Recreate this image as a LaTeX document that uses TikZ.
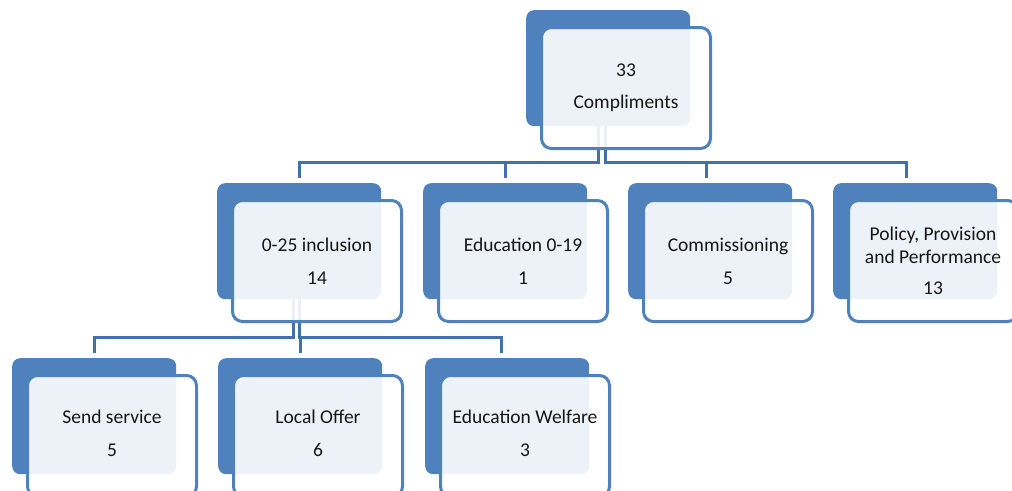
\documentclass[tikz,border=0pt]{standalone}
\usepackage{fontspec}
\setmainfont{Carlito}
\usetikzlibrary{positioning}

\definecolor{boxblue}{RGB}{79,129,189}
\definecolor{linkblue}{RGB}{68,112,170}
\definecolor{txtgray}{RGB}{22,22,22}

\tikzset{
  backbox/.style={fill=boxblue, rounded corners=8pt, minimum width=164pt, minimum height=116pt, inner sep=0pt, anchor=north west},
  frontbox/.style={draw=boxblue, line width=3pt, fill=white, fill opacity=0.9, rounded corners=10pt, minimum width=169pt, minimum height=121pt, inner sep=0pt},
  itemtext/.style={align=center, text=txtgray, font=\fontsize{19.5}{23.4}\selectfont, inner sep=0pt},
  link/.style={draw=linkblue, line width=3.3pt}
}

\begin{document}
\begin{tikzpicture}[x=1pt, y=-1pt]
	\useasboundingbox (0,0) rectangle (1012,490);
	% back boxes
	\node[backbox] (topb) at (526,10) {};
	\node[backbox] (incb) at (217,183) {};
	\node[backbox] (edub) at (423,183) {};
	\node[backbox] (comb) at (628,183) {};
	\node[backbox] (polb) at (833,183) {};
	\node[backbox] (sndb) at (12,358) {};
	\node[backbox] (locb) at (218,358) {};
	\node[backbox] (ewfb) at (425,358) {};
	% links
	\coordinate (topl) at ([xshift=-10pt]topb.south);
	\coordinate (topr) at ([xshift=-3pt]topb.south);
	\draw[link] (topl) -- ++(0,36) -| ([yshift=5pt]incb.north);
	\draw[link] (topl) -- ++(0,36) -| ([yshift=5pt]edub.north);
	\draw[link] (topr) -- ++(0,36) -| ([xshift=-4pt,yshift=5pt]comb.north);
	\draw[link] (topr) -- ++(0,36) -| ([xshift=-9pt,yshift=5pt]polb.north);
	\coordinate (incl) at ([xshift=-6pt]incb.south);
	\coordinate (incr) at (incb.south);
	\draw[link] (incl) -- ++(0,38) -| ([yshift=5pt]sndb.north);
	\draw[link] (incr) -- ++(0,38) -| ([yshift=5pt]locb.north);
	\draw[link] (incr) -- ++(0,38) -| ([xshift=-6pt,yshift=5pt]ewfb.north);
	% front boxes
	\node[frontbox, below right=16pt and 14pt of topb.north west] (topf) {};
	\node[frontbox, below right=16pt and 14pt of incb.north west] (incf) {};
	\node[frontbox, below right=16pt and 14pt of edub.north west] (eduf) {};
	\node[frontbox, below right=16pt and 14pt of comb.north west] (comf) {};
	\node[frontbox, below right=16pt and 14pt of polb.north west] (polf) {};
	\node[frontbox, below right=16pt and 14pt of sndb.north west] (sndf) {};
	\node[frontbox, below right=16pt and 14pt of locb.north west] (locf) {};
	\node[frontbox, below right=16pt and 14pt of ewfb.north west] (ewff) {};
	% texts
	\node[itemtext] (topt) at (topf) {33\\[9pt]Compliments};
	\node[itemtext] (inct) at (incf) {0-25 inclusion\\[9.5pt]14};
	\node[itemtext] (edut) at (eduf) {Education 0-19\\[9.5pt]1};
	\node[itemtext] (comt) at (comf) {Commissioning\\[9.5pt]5};
	\node[itemtext] (polt) at (polf) {Policy, Provision\\and Performance\\[7.5pt]13};
	\node[itemtext] (sndt) at ([yshift=3pt]sndf.center) {Send service\\[10pt]5};
	\node[itemtext] (loct) at ([yshift=3pt]locf.center) {Local Offer\\[10pt]6};
	\node[itemtext] (ewft) at ([yshift=3pt]ewff.center) {Education Welfare\\[10pt]3};
\end{tikzpicture}
\end{document}
